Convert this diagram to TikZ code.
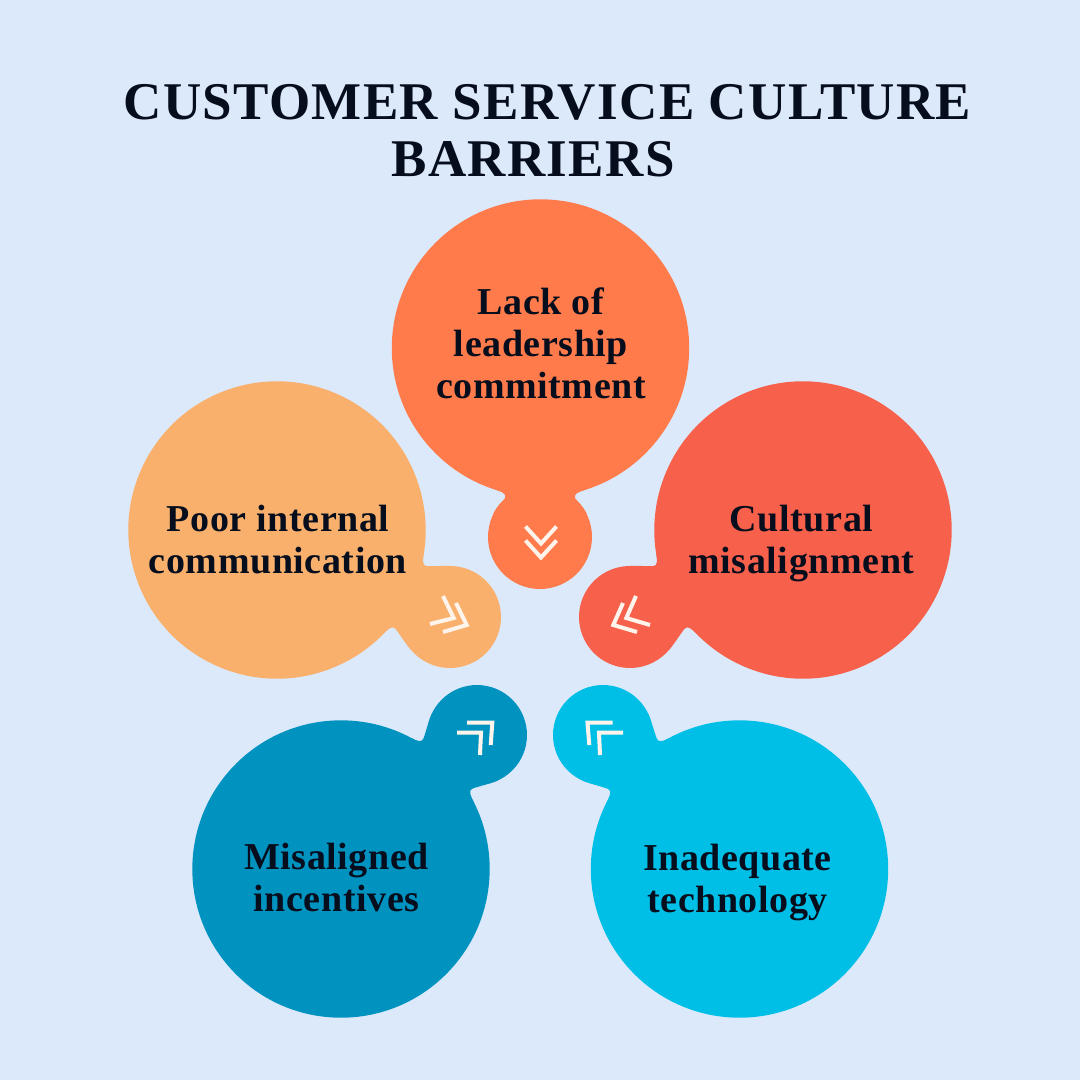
\documentclass[tikz,border=0pt]{standalone}
\usepackage{fontspec}
\setmainfont{Liberation Serif}
\definecolor{bgc}{HTML}{DCE9FB}
\definecolor{ink}{HTML}{060D1C}
\definecolor{cOrange}{HTML}{FF7B4B}
\definecolor{cRed}{HTML}{F7604B}
\definecolor{cTan}{HTML}{F8B06C}
\definecolor{cBlue}{HTML}{0093C0}
\definecolor{cCyan}{HTML}{00BFE7}
\definecolor{chev}{HTML}{FFF4EC}
\newfontfamily\titlefont[LetterSpace=2.5]{Liberation Serif}
\newfontfamily\bodyfont[LetterSpace=1.5]{Liberation Serif}
\newcommand{\tstr}{\rule{0pt}{30pt}}
\newcommand{\bstr}{\rule[-10pt]{0pt}{10pt}}
\tikzset{
  titletext/.style={text=ink,font=\titlefont\bfseries\fontsize{53}{58}\selectfont,inner sep=0pt,anchor=base},
  blobtext/.style={text=ink,font=\bodyfont\bfseries\fontsize{38}{42}\selectfont,align=center,inner sep=0pt},
  chevline/.style={draw=chev,line width=4pt,line cap=butt,line join=miter,fill=none}
}
% #1 colour, #2 big x, #3 big y, #4 small x, #5 small y, #6 small radius
\newcommand{\blob}[6]{%
  \pgfmathsetmacro{\ddx}{#4-#2}\pgfmathsetmacro{\ddy}{#5-#3}%
  \pgfmathsetmacro{\dlen}{veclen(\ddx,\ddy)}%
  \pgfmathsetmacro{\dang}{atan2(\ddx,\ddy)}%
  \pgfmathsetmacro{\dlow}{\dlen-sqrt(#6*#6-47*47)}%
  \pgfmathsetmacro{\dmid}{\dlow-11}%
  \begin{scope}[shift={(#2,#3)},rotate=\dang]
    \fill[#1] (0,0) circle[radius=148.7pt];
    \fill[#1] (0,\dlen) circle[radius=#6 pt];
    \fill[#1] (-44,142) .. controls (-39,143.6) and (-33,146) .. (-35,150)
      .. controls (-37,155) and (-42.3,\dmid) .. (-47,\dlow)
      -- (47,\dlow)
      .. controls (42.3,\dmid) and (37,155) .. (35,150)
      .. controls (33,146) and (39,143.6) .. (44,142) -- cycle;
  \end{scope}}
\begin{document}
\begin{tikzpicture}[x=1pt,y=-1pt]
\useasboundingbox (0,0) rectangle (1080,1080);
\fill[bgc] (0,0) rectangle (1080,1080);
\node[titletext] (title1) at (547.5,119) {CUSTOMER SERVICE CULTURE};
\node[titletext] (title2) at (533,176) {BARRIERS};

\blob{cOrange}{540.5}{348}{540}{537}{52}
\blob{cRed}{803}{530}{630}{617}{51}
\blob{cTan}{277}{530}{450}{617}{51}
\blob{cBlue}{341}{869}{477}{735}{50}
\blob{cCyan}{739.5}{869}{603}{735}{50}

\draw[chevline] (525.5,526.5) -- (541,543.5) -- (556.5,526.5);
\draw[chevline] (525.5,540.5) -- (541,557.5) -- (556.5,540.5);

\draw[chevline] (443,596) -- (453.7,618) -- (430,624);
\draw[chevline] (456,603) -- (466.7,625) -- (443,632);

\draw[chevline] (636,596) -- (626.3,618) -- (650,625);
\draw[chevline] (623,603) -- (613.3,625) -- (637,632);

\draw[chevline] (457,732.7) -- (481,732.7) -- (480,755);
\draw[chevline] (467,722.7) -- (492.3,722.7) -- (490.7,745);

\draw[chevline] (623,732.7) -- (599,732.7) -- (600,755);
\draw[chevline] (612.5,722.7) -- (587.5,722.7) -- (589.3,745);

\node[blobtext] (lack) at (541,346) {\tstr Lack of\\leadership\\commitment\bstr};
\node[blobtext] (poor) at (278,542) {\tstr Poor internal\\communication\bstr};
\node[blobtext] (cult) at (801.5,542) {\tstr Cultural\\misalignment\bstr};
\node[blobtext] (mis) at (336.5,880.5) {\tstr Misaligned\\incentives\bstr};
\node[blobtext] (inad) at (737.5,881) {\tstr Inadequate\\technology\bstr};
\end{tikzpicture}
\end{document}
